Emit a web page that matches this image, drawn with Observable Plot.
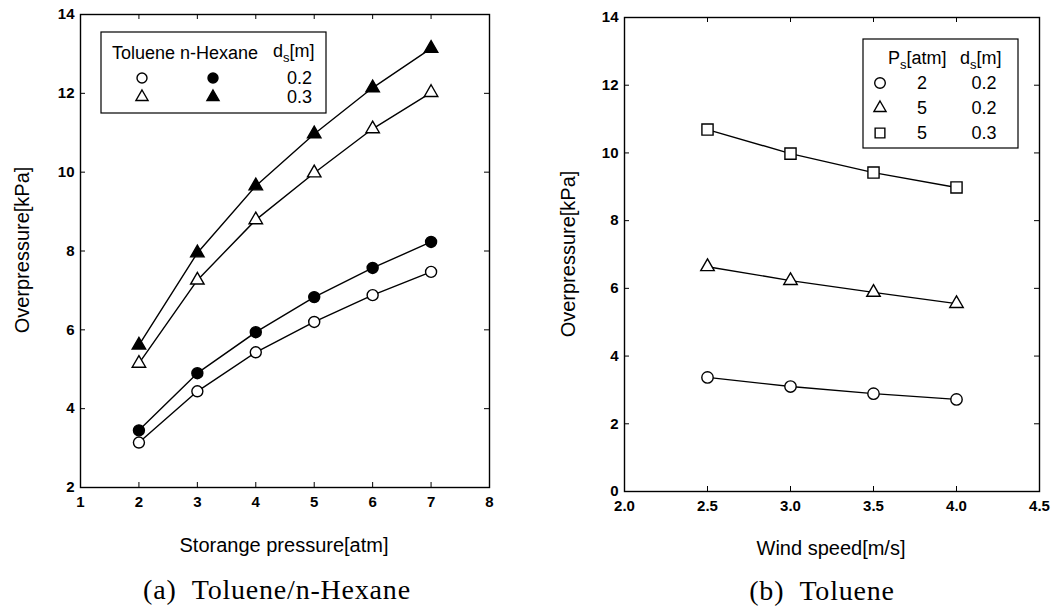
<!DOCTYPE html>
<html>
<head>
<meta charset="utf-8">
<script src="https://cdn.jsdelivr.net/npm/d3@7"></script>
<script src="https://cdn.jsdelivr.net/npm/@observablehq/plot@0.6"></script>
<style>
  body { margin: 0; background: #fff; }
  #root { position: relative; width: 1056px; height: 610px; overflow: hidden; background: #fff; }
  .panel { position: absolute; top: 0; }
  .lab { position: absolute; font-family: "Liberation Sans", Arial, sans-serif; font-size: 20px; color: #000; white-space: nowrap; transform: translate(-50%, -50%); }
  .ylab { transform: translate(-50%, -50%) rotate(-90deg); }
  .cap { position: absolute; font-family: "Liberation Serif", "DejaVu Serif", serif; font-size: 28px; letter-spacing: 0.8px; color: #000; white-space: pre; transform: translate(-50%, -50%); }
</style>
</head>
<body>
<div id="root"></div>
<script>
// ---------- data: panel (a) ----------
const storagePressure = [2, 3, 4, 5, 6, 7];
const tolueneD02 = [3.14, 4.44, 5.43, 6.20, 6.88, 7.47];
const hexaneD02  = [3.45, 4.90, 5.94, 6.83, 7.57, 8.23];
const tolueneD03 = [5.15, 7.26, 8.79, 9.98, 11.10, 12.02];
const hexaneD03  = [5.61, 7.95, 9.65, 10.97, 12.14, 13.14];
const aXTicks = [1, 2, 3, 4, 5, 6, 7, 8];
const aYTicks = [2, 4, 6, 8, 10, 12, 14];

// ---------- data: panel (b) ----------
const windSpeed = [2.5, 3.0, 3.5, 4.0];
const p2d02 = [3.37, 3.10, 2.89, 2.72];
const p5d02 = [6.64, 6.23, 5.88, 5.55];
const p5d03 = [10.69, 9.98, 9.42, 8.98];
const bXTicks = [2.0, 2.5, 3.0, 3.5, 4.0, 4.5];
const bYTicks = [0, 2, 4, 6, 8, 10, 12, 14];

const FONT = "Liberation Sans, Arial, sans-serif";
const rows = (xs, ys) => xs.map((x, i) => ({x, y: ys[i]}));

function panel({width, height, ml, mr, mt, mb, xDomain, yDomain, xTicks, yTicks, xFmt, series}) {
  const iw = width - ml - mr, ih = height - mt - mb, t = 5;
  const marks = [
    Plot.ruleX(xTicks, {x: d => d, insetTop: ih - t, stroke: "black", strokeWidth: 1}),
    Plot.ruleX(xTicks, {x: d => d, insetBottom: ih - t, stroke: "black", strokeWidth: 1}),
    Plot.ruleY(yTicks, {y: d => d, insetRight: iw - t, stroke: "black", strokeWidth: 1}),
    Plot.ruleY(yTicks, {y: d => d, insetLeft: iw - t, stroke: "black", strokeWidth: 1}),
    Plot.axisX(xTicks, {tickSize: 0, tickPadding: 9, tickFormat: xFmt, label: null,
      fontSize: 15, fontWeight: "bold", fontFamily: FONT, fill: "black"}),
    Plot.axisY(yTicks, {tickSize: 0, tickPadding: 6, label: null,
      fontSize: 15, fontWeight: "bold", fontFamily: FONT, fill: "black"}),
    Plot.frame({stroke: "black", strokeWidth: 1.4})
  ];
  for (const s of series) {
    marks.push(Plot.line(s.data, {x: "x", y: "y", stroke: "black", strokeWidth: 1.4}));
  }
  for (const s of series) {
    marks.push(Plot.dot(s.data, {x: "x", y: "y", symbol: s.symbol, r: s.r,
      fill: s.filled ? "black" : "white", stroke: "black", strokeWidth: 1.4}));
  }
  const svg = Plot.plot({
    width, height, marginLeft: ml, marginRight: mr, marginTop: mt, marginBottom: mb,
    style: {fontFamily: FONT, fontSize: "15px", background: "white", color: "black", overflow: "visible"},
    x: {domain: xDomain}, y: {domain: yDomain},
    marks
  });
  d3.select(svg).selectAll("text")
    .style("font-size", "15px").style("font-weight", "bold").style("font-family", FONT);
  return svg;
}

const root = document.getElementById("root");

// ---------- panel (a) ----------
const svgA = panel({
  width: 528, height: 560, ml: 80, mr: 39, mt: 14, mb: 73,
  xDomain: [1, 8], yDomain: [2, 14], xTicks: aXTicks, yTicks: aYTicks, xFmt: d3.format("d"),
  series: [
    {data: rows(storagePressure, tolueneD02), symbol: "circle", r: 5.5, filled: false},
    {data: rows(storagePressure, hexaneD02), symbol: "circle", r: 5.5, filled: true},
    {data: rows(storagePressure, tolueneD03), symbol: "triangle", r: 5, filled: false},
    {data: rows(storagePressure, hexaneD03), symbol: "triangle", r: 5, filled: true}
  ]
});
svgA.classList.add("panel");
svgA.style.left = "0px";
root.appendChild(svgA);

// ---------- panel (b) ----------
const svgB = panel({
  width: 528, height: 560, ml: 96, mr: 17, mt: 17, mb: 69,
  xDomain: [2, 4.5], yDomain: [0, 14], xTicks: bXTicks, yTicks: bYTicks, xFmt: d3.format(".1f"),
  series: [
    {data: rows(windSpeed, p2d02), symbol: "circle", r: 5.7, filled: false},
    {data: rows(windSpeed, p5d02), symbol: "triangle", r: 5, filled: false},
    {data: rows(windSpeed, p5d03), symbol: "square", r: 6.3, filled: false}
  ]
});
svgB.classList.add("panel");
svgB.style.left = "528px";
root.appendChild(svgB);

// ---------- legends ----------
function sym(g, type, x, y, r, filled) {
  const s = {circle: d3.symbolCircle, triangle: d3.symbolTriangle, square: d3.symbolSquare}[type];
  g.append("path").attr("transform", `translate(${x},${y})`)
    .attr("d", d3.symbol(s, r * r * Math.PI)())
    .attr("fill", filled ? "black" : "white").attr("stroke", "black").attr("stroke-width", 1.4);
}
function subText(g, x, y, base, sub, rest, anchor) {
  const t = g.append("text").attr("x", x).attr("y", y).attr("dy", "0.35em")
    .attr("text-anchor", anchor || "start").attr("font-size", 18).attr("font-family", FONT).attr("fill", "black");
  t.append("tspan").text(base);
  t.append("tspan").attr("dy", 5).attr("font-size", 13).text(sub);
  t.append("tspan").attr("dy", -5).text(rest);
}
function txt(g, x, y, s, anchor) {
  g.append("text").attr("x", x).attr("y", y).attr("dy", "0.35em")
    .attr("text-anchor", anchor || "start").attr("font-size", 18).attr("font-family", FONT)
    .attr("fill", "black").text(s);
}

const legendA = {
  header: ["Toluene", "n-Hexane"], ds: ["0.2", "0.3"],
  symbols: ["circle", "triangle"]
};
{
  const g = d3.select(svgA).append("g");
  g.append("rect").attr("x", 101).attr("y", 32).attr("width", 225).attr("height", 81)
    .attr("fill", "white").attr("stroke", "black").attr("stroke-width", 1.2);
  txt(g, 112, 53, legendA.header[0]);
  txt(g, 180, 53, legendA.header[1]);
  subText(g, 273, 51, "d", "s", "[m]");
  legendA.symbols.forEach((s, i) => {
    const y = 78 + i * 19;
    sym(g, s, 142, y, s === "triangle" ? 4.5 : 5, false);
    sym(g, s, 213, y, s === "triangle" ? 4.5 : 5, true);
    txt(g, 312, y, legendA.ds[i], "end");
  });
}

const legendB = {
  ps: ["2", "5", "5"], ds: ["0.2", "0.2", "0.3"],
  symbols: ["circle", "triangle", "square"]
};
{
  const g = d3.select(svgB).append("g").attr("transform", "translate(-528,0)");
  g.append("rect").attr("x", 863).attr("y", 39).attr("width", 155).attr("height", 109)
    .attr("fill", "white").attr("stroke", "black").attr("stroke-width", 1.2);
  subText(g, 888, 58, "P", "s", "[atm]");
  subText(g, 960, 58, "d", "s", "[m]");
  legendB.symbols.forEach((s, i) => {
    const y = 83 + i * 25;
    sym(g, s, 880, y, s === "triangle" ? 4.5 : (s === "square" ? 5.5 : 5.3), false);
    txt(g, 922, y, legendB.ps[i], "middle");
    txt(g, 984, y, legendB.ds[i], "middle");
  });
}

// ---------- titles & captions ----------
function addDiv(cls, text, x, y) {
  const d = document.createElement("div");
  d.className = cls;
  d.textContent = text;
  d.style.left = x + "px";
  d.style.top = y + "px";
  root.appendChild(d);
}
addDiv("lab", "Storange pressure[atm]", 284, 545);
addDiv("lab", "Wind speed[m/s]", 831, 548);
addDiv("lab ylab", "Overpressure[kPa]", 22, 250);
addDiv("lab ylab", "Overpressure[kPa]", 568, 254);
addDiv("cap", "(a)  Toluene/n-Hexane", 277, 590);
addDiv("cap", "(b)  Toluene", 822, 591);
</script>
</body>
</html>
